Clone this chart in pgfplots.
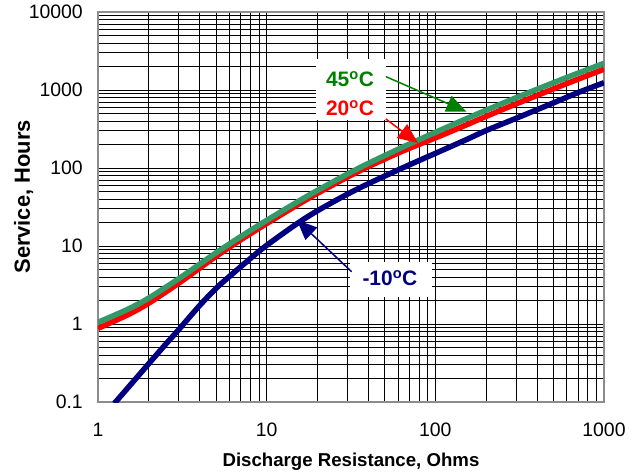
\documentclass[border=0pt]{standalone}
\usepackage{fontspec}
\setmainfont{Liberation Sans}
\usepackage{pgfplots}
\usepackage{pgfplotstable}
\pgfplotsset{compat=1.18}
\usetikzlibrary{arrows.meta}
\definecolor{seagrn}{RGB}{51,153,102}
\definecolor{dkgrn}{RGB}{0,128,0}
\definecolor{navyb}{RGB}{0,0,128}
\definecolor{bordergray}{RGB}{140,140,140}

\pgfplotstableread{
x y
1 1.05
1.5 1.543
2 2.148
3 3.79
4 5.83
5 8.15
7 13.15
10 21.3
15 36.1
20 51.6
30 83.3
40 114.3
60 173.6
80 230.8
100 286.6
150 421.3
200 550.6
300 793
500 1237
700 1641
1000 2198
}\greendata

\pgfplotstableread{
x y
1 0.88
1.5 1.31
2 1.85
3 3.32
4 5.18
5 7.34
7 11.95
10 19.4
15 33.0
20 47.3
30 76.1
40 103.9
60 155
80 200.7
100 242.9
150 351
200 458.8
300 661
500 1031
700 1373
1000 1847
}\reddata

\pgfplotstableread{
x y
1.25 0.096
1.5 0.151
2 0.31
2.5 0.54
3 0.84
4 1.72
5 2.85
6 4.05
8 6.9
10 10.2
15 19.1
20 28.3
30 46.0
40 62.8
60 94.2
80 124.5
100 154
150 227
200 302
300 432
500 682
700 925
1000 1240
}\bluedata

\begin{document}
\begin{tikzpicture}
\begin{axis}[
  scale only axis, width=506bp, height=390bp,
  xmode=log, ymode=log,
  xmin=1, xmax=1000, ymin=0.1, ymax=10000,
  xtick={1,10,100,1000}, xticklabels={1,10,100,1000},
  ytick={0.1,1,10,100,1000,10000}, yticklabels={0.1,1,10,100,1000,10000},
  minor xtick={2,3,4,5,6,7,8,9,20,30,40,50,60,70,80,90,200,300,400,500,600,700,800,900},
  minor ytick={0.2,0.3,0.4,0.5,0.6,0.7,0.8,0.9,2,3,4,5,6,7,8,9,20,30,40,50,60,70,80,90,200,300,400,500,600,700,800,900,2000,3000,4000,5000,6000,7000,8000,9000},
  grid=both,
  major grid style={black, line width=0.6pt},
  minor grid style={black, line width=0.6pt},
  axis line style={bordergray, line width=2pt},
  tick style={draw=none},
  tick label style={font=\fontsize{19.5}{20}\selectfont, inner sep=0pt},
  yticklabel style={anchor=east, xshift=-15bp},
  xticklabel style={anchor=north, yshift=-21bp},
  xlabel={Discharge Resistance, Ohms},
  ylabel={Service, Hours},
  xlabel style={at={(axis description cs:0.5,-0.152)}, anchor=center, font=\bfseries\fontsize{18.7}{19}\selectfont},
  ylabel style={at={(axis description cs:-0.147,0.526)}, anchor=center, rotate=0, font=\bfseries\fontsize{22}{22}\selectfont},
]
\addplot[navyb, line width=5.5bp, smooth] table[x=x,y=y] {\bluedata};
\addplot[red, line width=5.5bp, smooth] table[x=x,y=y] {\reddata};
\addplot[seagrn, line width=5.5bp, smooth] table[x=x,y=y] {\greendata};

\fill[white] (axis cs:19.6,412) rectangle (axis cs:50.9,2496);
\node[dkgrn, font=\bfseries\fontsize{21}{21}\selectfont] at (axis cs:31.2,1384) {45\textsuperscript{o}C};
\node[red, font=\bfseries\fontsize{21}{21}\selectfont] at (axis cs:31.2,588) {20\textsuperscript{o}C};
\fill[white] (axis cs:31.2,2.24) rectangle (axis cs:95.1,6.29);
\node[navyb, font=\bfseries\fontsize{21}{21}\selectfont] at (axis cs:53.8,3.85) {-10\textsuperscript{o}C};

\draw[dkgrn, line width=1.5bp, -{Triangle[length=20bp,width=17bp]}] (axis cs:50.9,1483) -- (axis cs:153,527);
\draw[red, line width=1.5bp, -{Triangle[length=20bp,width=17bp]}] (axis cs:50.9,425) -- (axis cs:78.9,209);
\draw[navyb, line width=1.5bp, -{Triangle[length=20bp,width=17bp]}] (axis cs:31.9,4.68) -- (axis cs:15.1,21.5);
\end{axis}
\pgfresetboundingbox
\path ([shift={(-98bp,-70bp)}]current axis.south west) rectangle ([shift={(38bp,12bp)}]current axis.north east);
\end{tikzpicture}
\end{document}
